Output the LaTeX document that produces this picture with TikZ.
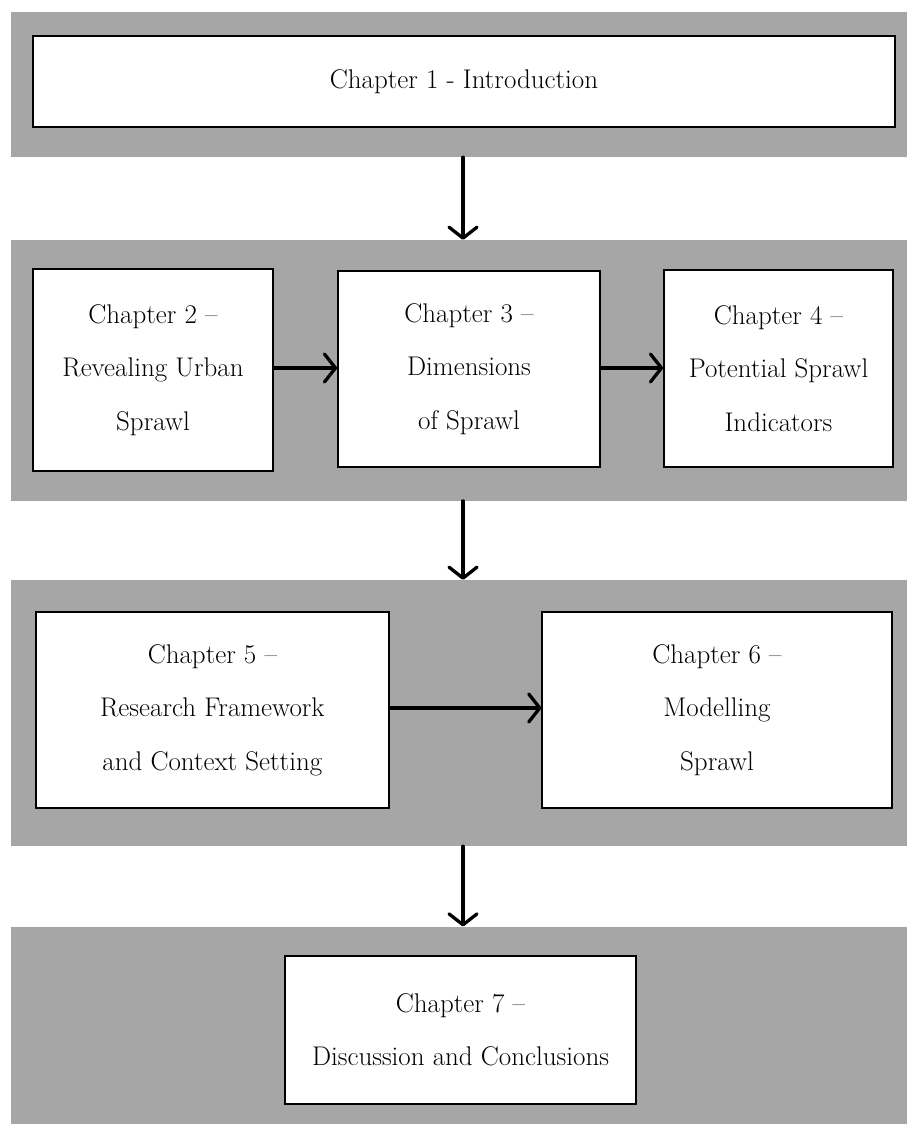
\documentclass[tikz,border=0pt]{standalone}
\usetikzlibrary{arrows.meta}
\definecolor{bandgray}{HTML}{A6A6A6}
\tikzset{
  band/.style={fill=bandgray, draw=none, inner sep=0pt},
  chbox/.style={draw=black, line width=1.8pt, fill=white, inner sep=0pt,
    align=center, font=\fontsize{27}{53.5}\selectfont},
  flow/.style={line width=3.3pt, line cap=round,
    -{Straight Barb[length=11pt,width=28pt,round]}},
}
\begin{document}
\begin{tikzpicture}[x=1pt,y=-1pt]
\useasboundingbox (0,0) rectangle (907,1124);

% grey bands, one per stage
\node[band, minimum width=896pt, minimum height=145pt]   (b1) at (459,84.5)    {};
\node[band, minimum width=896pt, minimum height=260.7pt] (b2) at (459,370.35)  {};
\node[band, minimum width=896pt, minimum height=266pt]   (b3) at (459,713)     {};
\node[band, minimum width=896pt, minimum height=197.3pt] (b4) at (459,1025.35) {};

% chapter boxes
\node[chbox, minimum width=862pt,   minimum height=90.5pt] (c1) at (464,81.5)
  {Chapter 1 - Introduction};
\node[chbox, minimum width=239.4pt, minimum height=201.7pt] (c2) at (153,369.85)
  {Chapter 2 --\\Revealing Urban\\Sprawl};
\node[chbox, minimum width=262pt,   minimum height=196pt] (c3) at (469,368.7)
  {Chapter 3 --\\Dimensions\\of Sprawl};
\node[chbox, minimum width=229pt,   minimum height=197pt] (c4) at (778.5,368.5)
  {Chapter 4 --\\Potential Sprawl\\Indicators};
\node[chbox, minimum width=353.3pt, minimum height=196pt] (c5) at (212.35,710)
  {Chapter 5 --\\Research Framework\\and Context Setting};
\node[chbox, minimum width=349.4pt, minimum height=196pt] (c6) at (717,710)
  {Chapter 6 --\\Modelling\\Sprawl};
\node[chbox, minimum width=351pt,   minimum height=148.3pt] (c7) at (460.5,1029.85)
  {Chapter 7 --\\Discussion and Conclusions};

% flow between stages
\draw[flow] (b1.south -| 463,0) -- (b2.north -| 463,0);
\draw[flow] (b2.south -| 463,0) -- (b3.north -| 463,0);
\draw[flow] (b3.south -| 463,0) -- (b4.north -| 463,0);

% flow within stages
\draw[flow] (c2.east |- 0,368) -- (c3.west |- 0,368);
\draw[flow] (c3.east |- 0,368) -- (c4.west |- 0,368);
\draw[flow] (c5.east |- 0,708) -- (c6.west |- 0,708);
\end{tikzpicture}
\end{document}
